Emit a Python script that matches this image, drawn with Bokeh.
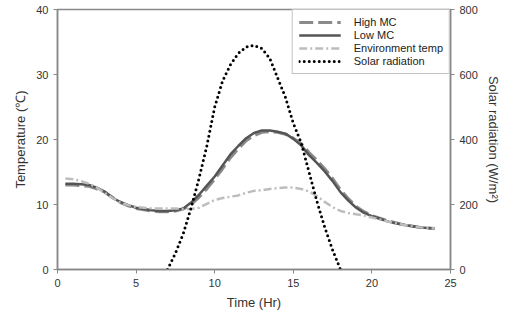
from bokeh.plotting import figure
from bokeh.models import Range1d, LinearAxis, Legend, LegendItem
from bokeh.embed import file_html
from bokeh.resources import INLINE

time_hr = [0.5, 1, 1.5, 2, 2.5, 3, 3.5, 4, 4.5, 5, 5.5, 6, 6.5, 7, 7.5, 8, 8.5, 9, 9.5, 10,
           10.5, 11, 11.5, 12, 12.5, 13, 13.5, 14, 14.5, 15, 15.5, 16, 16.5, 17, 17.5, 18,
           18.5, 19, 19.5, 20, 20.5, 21, 21.5, 22, 22.5, 23, 23.5, 24]
low_mc = [13.2, 13.2, 13.1, 13.0, 12.6, 12.0, 11.0, 10.4, 9.9, 9.5, 9.3, 9.1, 9.0, 9.0, 9.1, 9.4,
          10.3, 11.5, 12.9, 14.3, 16.0, 17.7, 19.0, 20.2, 21.0, 21.4, 21.4, 21.2, 20.9, 20.1,
          19.1, 17.6, 16.4, 15.1, 13.6, 11.9, 10.6, 9.5, 8.7, 8.2, 7.8, 7.4, 7.1, 6.9, 6.7, 6.5,
          6.4, 6.3]
high_mc = [13.0, 13.0, 12.9, 12.8, 12.4, 11.9, 11.1, 10.3, 9.8, 9.4, 9.2, 9.0, 8.9, 8.9, 9.0, 9.3,
           10.0, 11.1, 12.4, 13.9, 15.5, 17.2, 18.6, 19.8, 20.6, 21.1, 21.2, 21.1, 20.8, 20.2,
           19.4, 18.0, 16.8, 15.5, 14.0, 12.3, 10.9, 9.7, 8.9, 8.3, 7.9, 7.5, 7.2, 6.9, 6.7, 6.5,
           6.4, 6.3]
env_temp = [14.0, 13.9, 13.6, 13.2, 12.6, 11.8, 11.0, 10.3, 9.9, 9.6, 9.5, 9.4, 9.4, 9.4, 9.4, 9.3,
            9.3, 9.5, 10.1, 10.7, 11.0, 11.2, 11.4, 11.8, 12.1, 12.2, 12.4, 12.5, 12.6, 12.6,
            12.4, 12.0, 11.3, 10.4, 9.6, 9.0, 8.7, 8.5, 8.3, 8.0, 7.7, 7.4, 7.1, 6.9, 6.7, 6.5,
            6.4, 6.3]
solar_time = [7, 7.5, 8, 8.5, 9, 9.5, 10, 10.5, 11, 11.5, 12, 12.5, 13, 13.5, 14, 14.5, 15, 15.5,
              16, 16.5, 17, 17.5, 18]
solar_rad = [0, 50, 110, 190, 280, 380, 500, 580, 630, 665, 685, 690, 680, 650, 590, 530, 450, 390,
             300, 210, 130, 60, 0]

FONT = "Liberation Sans"

p = figure(width=503, height=312, output_backend="svg", toolbar_location=None,
           x_range=Range1d(0, 25), y_range=Range1d(0, 40),
           min_border_left=57, min_border_right=50, min_border_top=9, min_border_bottom=41)
p.extra_y_ranges = {"solar": Range1d(0, 800)}
p.xgrid.visible = False
p.ygrid.visible = False
p.outline_line_color = "#888888"
p.outline_line_width = 1.5

r_high = p.line(time_hr, high_mc, line_color="#8a8a8a", line_width=3, line_dash="14 5")
r_low = p.line(time_hr, low_mc, line_color="#555555", line_width=2.5)
r_env = p.line(time_hr, env_temp, line_color="#bdbdbd", line_width=2.5, line_dash="8 3 2 3")
r_sol = p.line(solar_time, solar_rad, line_color="black", line_width=3, line_dash="0 5",
               line_cap="round", y_range_name="solar")

right = LinearAxis(y_range_name="solar")
p.add_layout(right, "right")

for ax in [p.xaxis[0], p.yaxis[0], right]:
    ax.axis_line_color = "#888888"
    ax.axis_line_width = 1.5
    ax.major_tick_line_color = "#888888"
    ax.major_tick_out = 4
    ax.major_tick_in = 0
    ax.minor_tick_line_color = None
    ax.major_label_text_font = FONT
    ax.major_label_text_font_size = "11px"
    ax.major_label_text_color = "#333333"
    ax.axis_label_text_font = FONT
    ax.axis_label_text_font_size = "13px"
    ax.axis_label_text_font_style = "normal"
    ax.axis_label_text_color = "#333333"

p.xaxis[0].ticker = [0, 5, 10, 15, 20, 25]
p.yaxis[0].ticker = [0, 10, 20, 30, 40]
right.ticker = [0, 200, 400, 600, 800]
p.xaxis[0].axis_label = "Time (Hr)"
p.yaxis[0].axis_label = "Temperature (℃)"
right.axis_label = "Solar radiation (W/m²)"

legend = Legend(items=[
    LegendItem(label="High MC", renderers=[r_high]),
    LegendItem(label="Low MC", renderers=[r_low]),
    LegendItem(label="Environment temp", renderers=[r_env]),
    LegendItem(label="Solar radiation", renderers=[r_sol]),
], location="top_right")
legend.margin = 0
legend.padding = 6
legend.spacing = 1
legend.glyph_width = 42
legend.glyph_height = 12
legend.label_height = 12
legend.label_standoff = 13
legend.label_text_font = FONT
legend.label_text_font_size = "11px"
legend.label_text_color = "#222222"
legend.border_line_color = "#888888"
legend.border_line_width = 1
legend.background_fill_alpha = 1
p.add_layout(legend)

open("out.html", "w").write(file_html(p, INLINE))
